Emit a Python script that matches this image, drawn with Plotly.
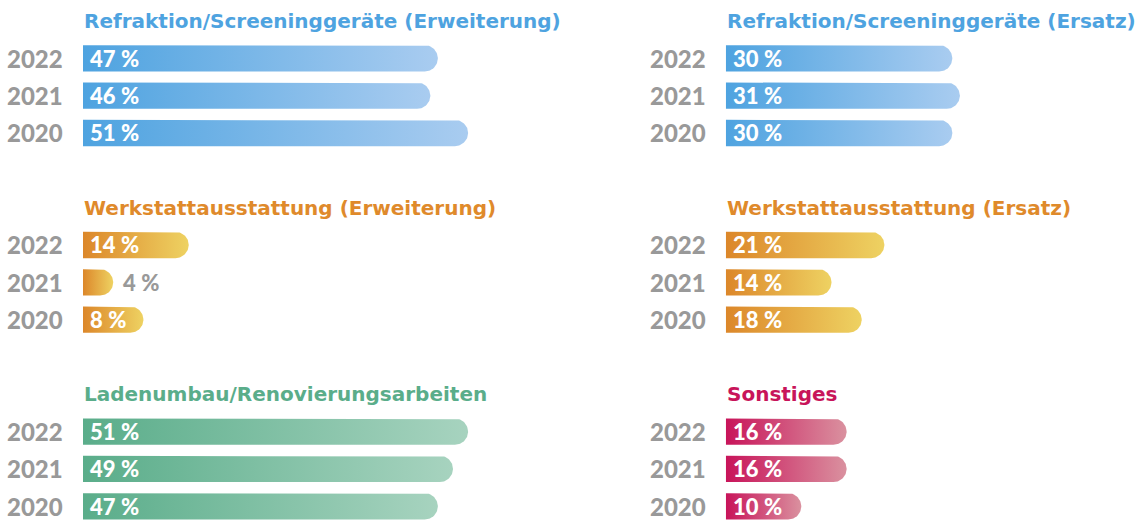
import numpy as np
import plotly.graph_objects as go

# ---------------- data ----------------
years = ["2022", "2021", "2020"]
titles = [
    "Refraktion/Screeninggeräte (Erweiterung)",
    "Refraktion/Screeninggeräte (Ersatz)",
    "Werkstattausstattung (Erweiterung)",
    "Werkstattausstattung (Ersatz)",
    "Ladenumbau/Renovierungsarbeiten",
    "Sonstiges",
]
refr_erw = [47, 46, 51]
refr_ers = [30, 31, 30]
werk_erw = [14, 4, 8]
werk_ers = [21, 14, 18]
laden = [51, 49, 47]
sonst = [16, 16, 10]
series = [refr_erw, refr_ers, werk_erw, werk_ers, laden, sonst]

# ---------------- styles ----------------
blue = ("#4ea3e0", "#a9ccf0")
orange = ("#dc872a", "#eed262")
green = ("#5aad8a", "#a7d3bf")
pink = ("#c8145a", "#da919f")
palette = [blue, blue, orange, orange, green, pink]
title_colors = ["#4ea3e0", "#4ea3e0", "#df8a2b", "#df8a2b", "#5aad8a", "#c8145a"]
gray = "#999999"
TITLE_FONT = "DejaVu Sans"
FONT = "Lato"

W, H = 1136, 520
PX_PER_UNIT = 7.55          # horizontal pixels per percentage point
SLOT_PX = 37.33             # vertical pixels per row slot
TOP_PX = 21.0               # pixel centre of the first title
BAR_PX = 26.3               # bar thickness in pixels
col_start_px = [83.0, 725.8]
col_range = [0, 60]

fig = go.Figure()

xspan = (col_range[1] - col_range[0]) * PX_PER_UNIT
xaxes = {}
for c, x0 in enumerate(col_start_px):
    name = "xaxis" if c == 0 else "xaxis2"
    xaxes[name] = dict(
        domain=[x0 / W, min(1.0, (x0 + xspan) / W)],
        range=col_range if (x0 + xspan) <= W else [0, (W - x0) / PX_PER_UNIT],
        visible=False, fixedrange=True, anchor="y",
    )

y_top = -TOP_PX / SLOT_PX
y_bot = (H - TOP_PX) / SLOT_PX

half_h = BAR_PX / 2 / SLOT_PX        # half-thickness in slot units
r_x = BAR_PX / 2 / PX_PER_UNIT       # end-cap radius in x units

annotations = []
for p, vals in enumerate(series):
    col = p % 2
    panel_row = p // 2
    xref = "x" if col == 0 else "x2"
    base_slot = panel_row * 5
    # title
    annotations.append(dict(
        x=0, y=base_slot, xref=xref, yref="y", xanchor="left", yanchor="middle",
        text=titles[p], showarrow=False, xshift=-1,
        font=dict(family=TITLE_FONT, size=20, color=title_colors[p], weight="bold"),
    ))
    for i, (yr, v) in enumerate(zip(years, vals)):
        yc = base_slot + 1 + i
        # rounded-end bar polygon derived from the value
        cx = max(v - r_x, 0)
        t = np.linspace(-np.pi / 2, np.pi / 2, 40)
        xs = [0, cx] + list(cx + r_x * np.cos(t)) + [cx, 0, 0]
        ys = [yc - half_h, yc - half_h] + list(yc + half_h * np.sin(t)) + [yc + half_h, yc + half_h, yc - half_h]
        fig.add_trace(go.Scatter(
            x=xs, y=ys, xaxis=xref, yaxis="y", mode="lines", fill="toself",
            line=dict(width=0, color="rgba(0,0,0,0)"),
            fillgradient=dict(type="horizontal",
                              colorscale=[[0, palette[p][0]], [1, palette[p][1]]]),
            hoverinfo="skip", showlegend=False,
        ))
        # year label
        annotations.append(dict(
            x=0, y=yc, xref=xref, yref="y", xanchor="left", yanchor="middle",
            text=yr, showarrow=False, xshift=-78,
            font=dict(family=FONT, size=24, color=gray, weight=900),
        ))
        # value label
        label = f"{v}\u202f%"
        if v >= 6:
            annotations.append(dict(
                x=0, y=yc, xref=xref, yref="y", xanchor="left", yanchor="middle",
                text=label, showarrow=False, xshift=5,
                font=dict(family=FONT, size=22, color="white", weight=900),
            ))
        else:
            annotations.append(dict(
                x=v, y=yc, xref=xref, yref="y", xanchor="left", yanchor="middle",
                text=label, showarrow=False, xshift=8,
                font=dict(family=FONT, size=22, color=gray, weight=900),
            ))

fig.update_layout(
    width=W, height=H,
    margin=dict(l=0, r=0, t=0, b=0),
    paper_bgcolor="white", plot_bgcolor="white",
    yaxis=dict(range=[y_bot, y_top], domain=[0, 1], visible=False, fixedrange=True),
    annotations=annotations,
    showlegend=False,
    **xaxes,
)

fig.write_html(
    "out.html",
    config={"displayModeBar": False},
    post_script="document.body.style.margin='0';document.body.style.overflow='hidden';",
)
